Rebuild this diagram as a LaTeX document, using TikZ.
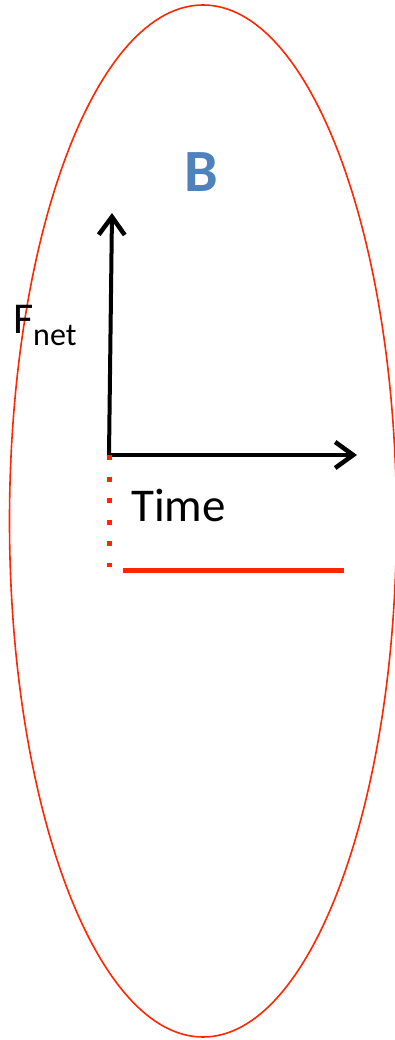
\documentclass[tikz,border=0pt]{standalone}
\usepackage{fontspec}
\setmainfont{Carlito}
\usetikzlibrary{arrows.meta}
\definecolor{ored}{RGB}{255,38,0}
\definecolor{oblue}{RGB}{79,129,189}
\begin{document}
\begin{tikzpicture}[x=1pt,y=-1pt,
  axis/.style={line width=4pt,-{Straight Barb[length=18pt,width=26pt,line width=4.5pt]}},
  dotline/.style={ored,line width=5pt,dash pattern=on 5pt off 16.5pt},
  lbl/.style={inner sep=0pt,anchor=base west}]
\useasboundingbox (0,0) rectangle (395,1040);
\draw[ored,line width=1.6pt] (203,521) ellipse [x radius=193.5, y radius=516];
\node[font=\bfseries\fontsize{60}{60}\selectfont,text=oblue,inner sep=0pt,anchor=base] (B) at (201,192) {B};
\coordinate (O) at (109,455);
\coordinate (Ytip) at (112,213);
\coordinate (Xtip) at (357,455);
\draw[axis] (O) -- (Ytip);
\draw[axis] (O) -- (Xtip);
\coordinate (D1) at (109,455);
\coordinate (D2) at (109,567);
\draw[dotline] (D1) -- (D2);
\coordinate (R1) at (123,570);
\coordinate (R2) at (344,570);
\draw[ored,line width=5pt] (R1) -- (R2);
\node[lbl,font=\fontsize{47}{47}\selectfont] (time) at (131,521) {Time};
\node[lbl,font=\fontsize{44}{44}\selectfont] (F) at (13,333) {F};
\node[lbl,font=\fontsize{32}{32}\selectfont] (net) at (33,345) {net};
\end{tikzpicture}
\end{document}
